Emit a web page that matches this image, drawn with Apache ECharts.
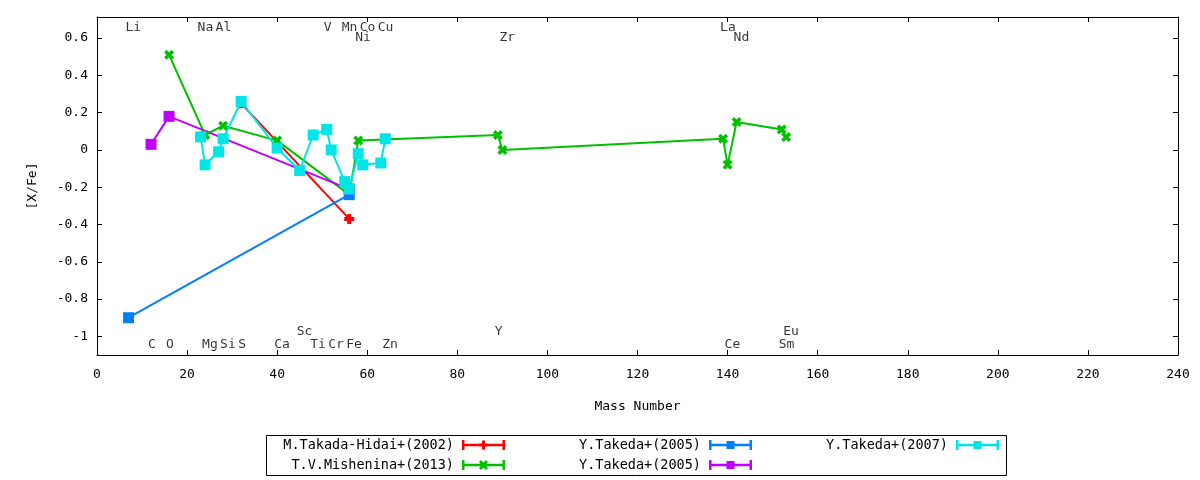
<!DOCTYPE html>
<html>
<head>
<meta charset="utf-8">
<script src="https://cdn.jsdelivr.net/npm/echarts@6/dist/echarts.min.js"></script>
<style>
html,body{margin:0;padding:0;background:#fff;}
#main{width:1200px;height:480px;}
</style>
</head>
<body>
<div id="main"></div>
<script>
// [X/Fe] vs mass number, five data sets
var takadaHidaiMass = [32, 56];
var takadaHidaiXFe  = [0.25, -0.37];

var misheninaMass = [16, 24, 28, 40, 56, 58, 89, 90, 139, 140, 142, 152, 153];
var misheninaXFe  = [0.51, 0.08, 0.13, 0.05, -0.24, 0.05, 0.08, 0.0, 0.06, -0.08, 0.15, 0.11, 0.07];

var takeda05aMass = [7, 56];
var takeda05aXFe  = [-0.9, -0.24];

var takeda05bMass = [12, 16, 56];
var takeda05bXFe  = [0.03, 0.18, -0.21];

var takeda07Mass = [23, 24, 27, 28, 32, 40, 45, 48, 51, 52, 55, 56, 58, 59, 63, 64];
var takeda07XFe  = [0.07, -0.08, -0.01, 0.06, 0.26, 0.01, -0.11, 0.08, 0.11, 0.0, -0.17, -0.21, -0.02, -0.08, -0.07, 0.06];

// legend titles (two sets share a title, so series get their own ids)
var seriesTitles = ['M.Takada-Hidai+(2002)', 'T.V.Mishenina+(2013)', 'Y.Takeda+(2005)', 'Y.Takeda+(2005)', 'Y.Takeda+(2007)'];
var seriesIds = ['takadaHidai02', 'mishenina13', 'takeda05a', 'takeda05b', 'takeda07'];

// element labels
var elemNames = ['Li','Na','Al','V','Mn','Co','Cu','La','Ni','Zr','Nd','Sc','Y','Eu','C','O','Mg','Si','S','Ca','Ti','Cr','Fe','Zn','Ce','Sm'];
var elemMass  = [7, 23, 27, 51, 55, 59, 63, 139, 58, 90, 142, 45, 89, 153, 12, 16, 24, 28, 32, 40, 48, 52, 56, 64, 140, 152];
var elemRow   = [0,0,0,0,0,0,0,0, 1,1,1, 2,2,2, 3,3,3,3,3,3,3,3,3,3,3,3];

var yTicks = [-1, -0.8, -0.6, -0.4, -0.2, 0, 0.2, 0.4, 0.6];
var rowY = [0.655, 0.605, -0.975, -1.045];

var FONT = 'DejaVu Sans Mono';
var colors = ['#ff0000', '#00c000', '#0080ff', '#c000ff', '#00e6e6'];

function pairs(xs, ys){
	var out = [];
	for(var i = 0; i < xs.length; i++){ out.push([xs[i], ys[i]]); }
	return out;
}

var plusSym = 'path://M3,0h4v10h-4z M0,3h10v4h-10z';
var crossSym = 'path://M0,2.5L2.5,0L5,2.5L7.5,0L10,2.5L7.5,5L10,7.5L7.5,10L5,7.5L2.5,10L0,7.5L2.5,5Z';

var barPart = 'M0,0h2.5v10h-2.5z M40.5,0h2.5v10h-2.5z M0,3.75h43v2.5h-43z ';
var iconPlus = 'path://' + barPart + 'M20,0.5h3v9h-3z M17,3.5h9v3h-9z';
var iconCross = 'path://' + barPart + 'M17,2L19,0L21.5,2.5L24,0L26,2L23.5,5L26,8L24,10L21.5,7.5L19,10L17,8L19.5,5Z';
var iconSquare = 'path://' + barPart + 'M17.5,1h8v8h-8z';

function lineSeries(k, data, symbol){
	return {
		name: seriesIds[k], type: 'line', data: data,
		symbol: symbol, symbolSize: symbol === 'rect' ? 11 : 10,
		lineStyle: {color: colors[k], width: 2},
		itemStyle: {color: colors[k]},
		emphasis: {disabled: true},
		z: 3
	};
}

var labelData = [];
for(var i = 0; i < elemNames.length; i++){
	labelData.push({value: [elemMass[i], rowY[elemRow[i]]], name: elemNames[i]});
}

function legendAt(k, icon, right, top){
	return {
		data: [seriesIds[k]], icon: icon, right: right, top: top,
		align: 'right', padding: 0, itemWidth: 43, itemHeight: 10,
		selectedMode: false,
		formatter: function(){ return seriesTitles[k]; },
		textStyle: {fontFamily: FONT, fontSize: 13.5, color: '#000', padding: [0, 3, 0, 0]}
	};
}

var spine = {show: true, onZero: false, lineStyle: {color: '#000', width: 1}};
var ticks = {inside: true, length: 5, lineStyle: {color: '#000'}};

var chart = echarts.init(document.getElementById('main'));
chart.setOption({
	animation: false,
	backgroundColor: '#fff',
	textStyle: {fontFamily: FONT},
	grid: {left: 97, right: 22, top: 17, bottom: 125},
	xAxis: [{
		type: 'value', min: 0, max: 240, interval: 20,
		name: 'Mass Number', nameLocation: 'middle', nameGap: 45,
		nameTextStyle: {fontFamily: FONT, fontSize: 13, color: '#000'},
		axisLine: spine, axisTick: ticks,
		axisLabel: {fontFamily: FONT, fontSize: 13, color: '#000', margin: 13},
		splitLine: {show: false}
	}, {
		type: 'value', min: 0, max: 240, interval: 20, position: 'top',
		axisLine: spine, axisTick: ticks,
		axisLabel: {show: false},
		splitLine: {show: false}
	}],
	yAxis: [{
		type: 'value', min: -1.1, max: 0.713,
		name: '[X/Fe]', nameLocation: 'middle', nameRotate: 90, nameGap: 58,
		nameTextStyle: {fontFamily: FONT, fontSize: 13, color: '#000'},
		axisLine: spine,
		axisTick: {inside: true, length: 5, customValues: yTicks, lineStyle: {color: '#000'}},
		axisLabel: {fontFamily: FONT, fontSize: 13, color: '#000', margin: 9, customValues: yTicks,
			formatter: function(v){ return String(v); }},
		splitLine: {show: false}
	}, {
		type: 'value', min: -1.1, max: 0.713, position: 'right',
		axisLine: spine,
		axisTick: {inside: true, length: 5, customValues: yTicks, lineStyle: {color: '#000'}},
		axisLabel: {show: false, customValues: yTicks},
		splitLine: {show: false}
	}],
	legend: [
		legendAt(0, iconPlus, 695, 438),
		legendAt(1, iconCross, 695, 458),
		legendAt(2, iconSquare, 448, 438),
		legendAt(3, iconSquare, 448, 458),
		legendAt(4, iconSquare, 201, 438)
	],
	graphic: [{
		type: 'rect', silent: true,
		shape: {x: 266.5, y: 435.5, width: 740, height: 40},
		style: {fill: 'none', stroke: '#000', lineWidth: 1}
	}],
	series: [
		lineSeries(0, pairs(takadaHidaiMass, takadaHidaiXFe), plusSym),
		lineSeries(1, pairs(misheninaMass, misheninaXFe), crossSym),
		lineSeries(2, pairs(takeda05aMass, takeda05aXFe), 'rect'),
		lineSeries(3, pairs(takeda05bMass, takeda05bXFe), 'rect'),
		lineSeries(4, pairs(takeda07Mass, takeda07XFe), 'rect'),
		{
			type: 'scatter', data: labelData, symbolSize: 0, silent: true,
			itemStyle: {color: 'rgba(0,0,0,0)'},
			label: {show: true, position: [0, 0], offset: [-3, 0], align: 'left', verticalAlign: 'middle',
				formatter: '{b}', fontFamily: FONT, fontSize: 13, color: '#000'},
			z: 5
		}
	]
});
</script>
</body>
</html>
